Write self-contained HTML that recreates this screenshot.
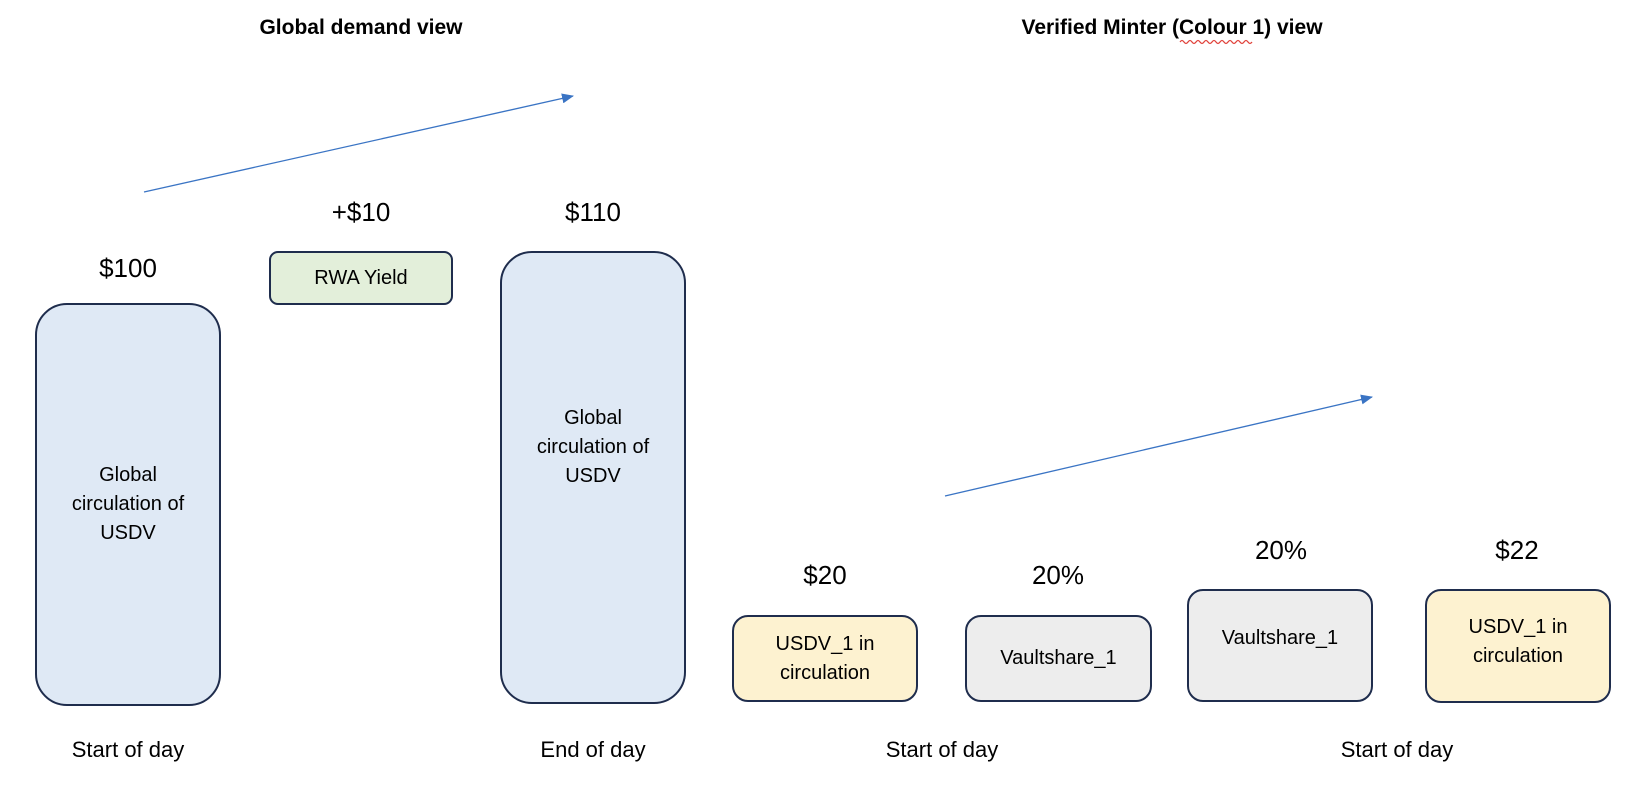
<!DOCTYPE html>
<html><head><meta charset="utf-8"><style>
body{margin:0;width:1642px;height:792px;background:#fff;position:relative;overflow:hidden;font-family:"Liberation Sans",sans-serif;color:#000}
.t{position:absolute;white-space:nowrap;transform:translateX(-50%);text-align:center}
.b{position:absolute;box-sizing:border-box;border:2px solid #1f2d4d;display:flex;align-items:center;justify-content:center;text-align:center;font-size:20px;line-height:29px}
.blue{background:#dfe9f5;border-radius:32px}
.green{background:#e3efda;border-radius:9px}
.yel{background:#fdf2d0;border-radius:16px}
.gry{background:#ededed;border-radius:16px}
.v{font-size:26px}
.bl{font-size:22px}
.h{font-size:21px;font-weight:bold}
</style></head><body>
<svg width="1642" height="792" style="position:absolute;left:0;top:0">
<defs><marker id="a" markerWidth="12" markerHeight="10" refX="11" refY="5" orient="auto" markerUnits="userSpaceOnUse"><path d="M0,0 L12,5 L0,10z" fill="#3a74c4"/></marker></defs>
<line x1="144" y1="192" x2="573" y2="96" stroke="#3a74c4" stroke-width="1.3" marker-end="url(#a)"/>
<line x1="945" y1="496" x2="1372" y2="397" stroke="#3a74c4" stroke-width="1.3" marker-end="url(#a)"/>
<path d="M1180,42 q2,-3 4,0 t4,0 t4,0 t4,0 t4,0 t4,0 t4,0 t4,0 t4,0 t4,0 t4,0 t4,0 t4,0 t4,0 t4,0 t4,0 t4,0 t4,0" fill="none" stroke="#e0413a" stroke-width="1.2"/>
</svg>
<div class="t h" style="left:361px;top:16px">Global demand view</div>
<div class="t h" style="left:1172px;top:16px">Verified Minter (Colour 1) view</div>

<div class="t v" style="left:128px;top:253px">$100</div>
<div class="b blue" style="left:35px;top:303px;width:186px;height:403px">Global<br>circulation of<br>USDV</div>

<div class="t v" style="left:361px;top:197px">+$10</div>
<div class="b green" style="left:269px;top:251px;width:184px;height:54px">RWA Yield</div>

<div class="t v" style="left:593px;top:197px">$110</div>
<div class="b blue" style="left:500px;top:251px;width:186px;height:453px;padding-bottom:60px">Global<br>circulation of<br>USDV</div>

<div class="t v" style="left:825px;top:560px">$20</div>
<div class="b yel" style="left:732px;top:615px;width:186px;height:87px">USDV_1 in<br>circulation</div>

<div class="t v" style="left:1058px;top:560px">20%</div>
<div class="b gry" style="left:965px;top:615px;width:187px;height:87px">Vaultshare_1</div>

<div class="t v" style="left:1281px;top:535px">20%</div>
<div class="b gry" style="left:1187px;top:589px;width:186px;height:113px;padding-bottom:14px">Vaultshare_1</div>

<div class="t v" style="left:1517px;top:535px">$22</div>
<div class="b yel" style="left:1425px;top:589px;width:186px;height:114px;padding-bottom:8px">USDV_1 in<br>circulation</div>

<div class="t bl" style="left:128px;top:737px">Start of day</div>
<div class="t bl" style="left:593px;top:737px">End of day</div>
<div class="t bl" style="left:942px;top:737px">Start of day</div>
<div class="t bl" style="left:1397px;top:737px">Start of day</div>
</body></html>
